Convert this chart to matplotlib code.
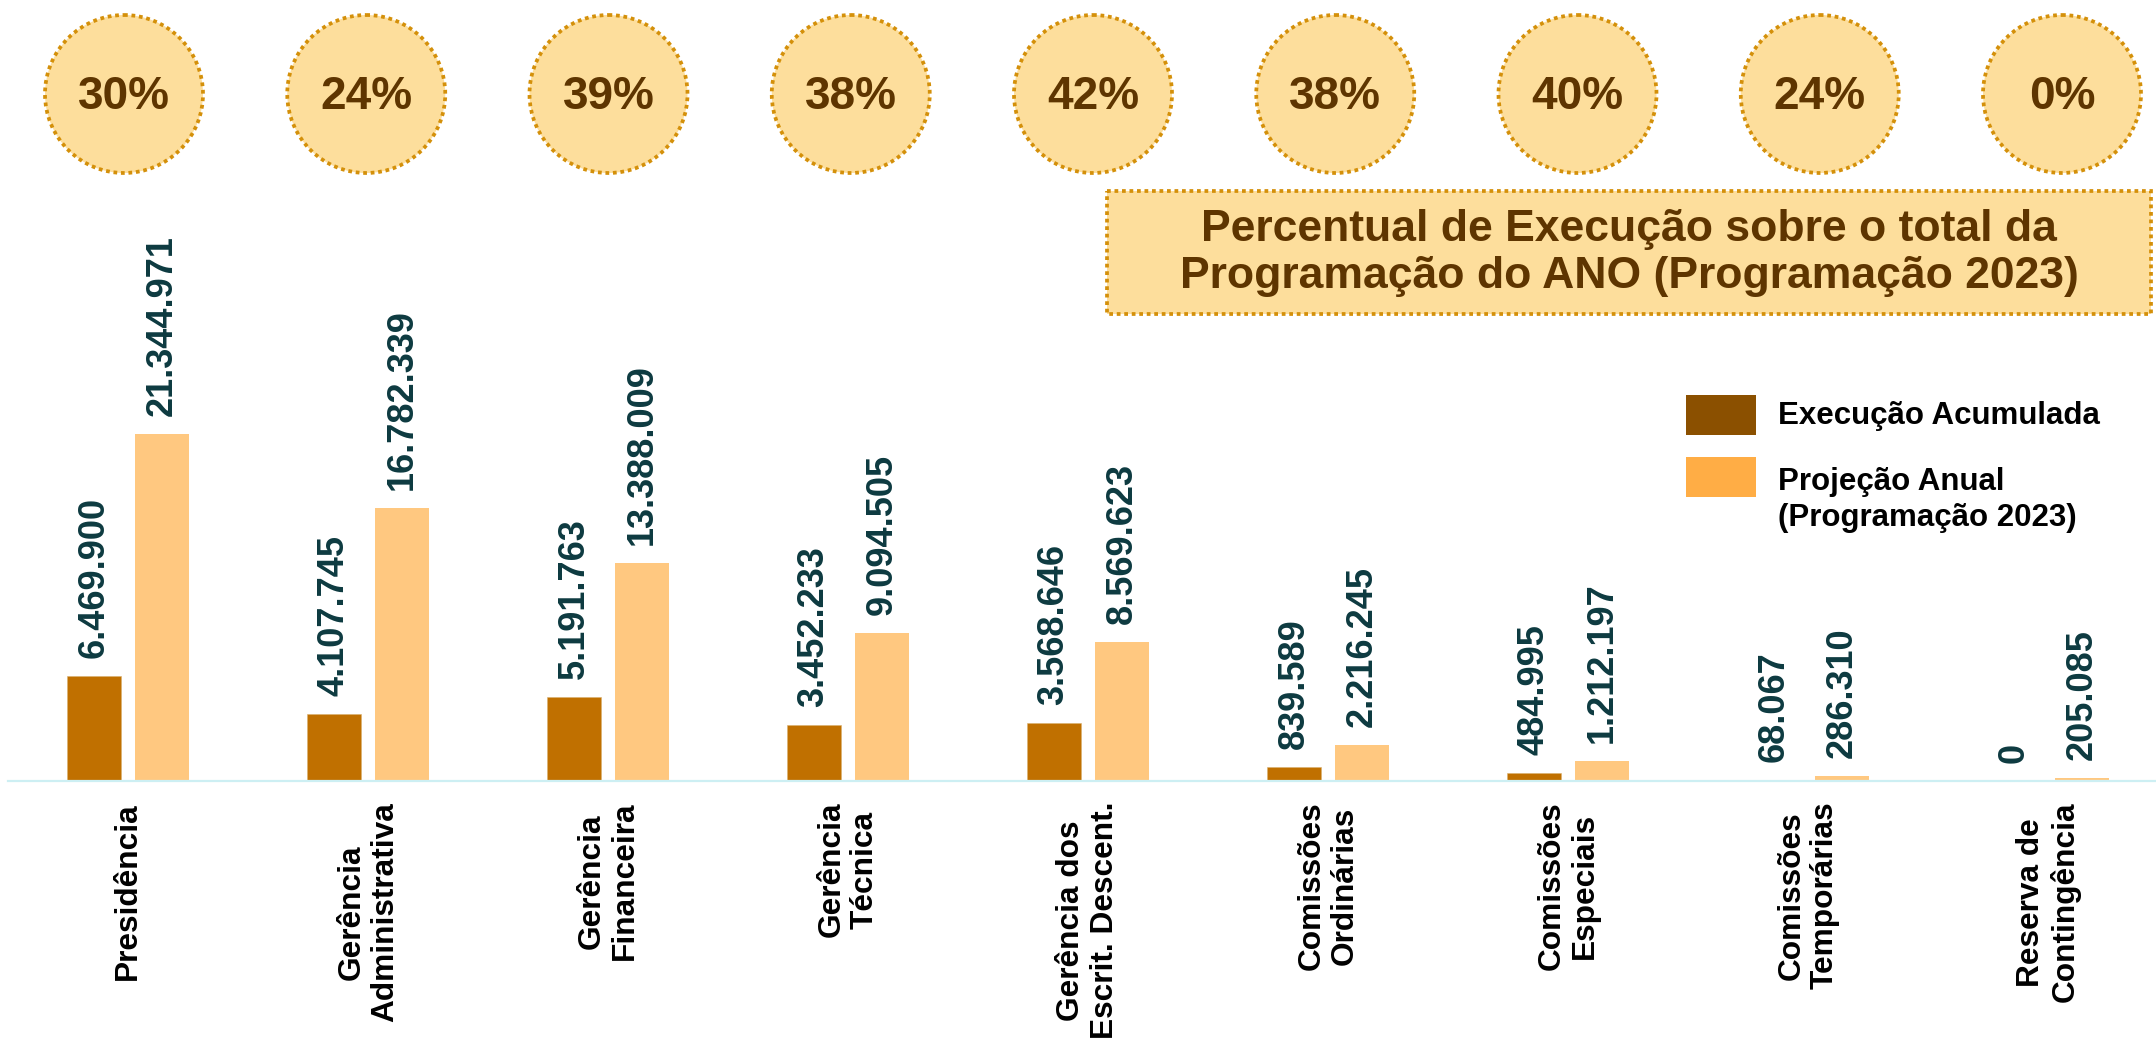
import matplotlib
matplotlib.use("Agg")
import matplotlib.pyplot as plt
from matplotlib.patches import Circle, Rectangle
import numpy as np

plt.rcParams['font.family'] = ['Liberation Sans', 'DejaVu Sans']
plt.rcParams['font.weight'] = 'bold'

# data
categories = ['Presidência', 'Gerência\nAdministrativa', 'Gerência\nFinanceira',
              'Gerência\nTécnica', 'Gerência dos\nEscrit. Descent.',
              'Comissões\nOrdinárias', 'Comissões\nEspeciais',
              'Comissões\nTemporárias', 'Reserva de\nContingência']
execucao = [6469900, 4107745, 5191763, 3452233, 3568646, 839589, 484995, 68067, 0]
projecao = [21344971, 16782339, 13388009, 9094505, 8569623, 2216245, 1212197, 286310, 205085]
percentuais = ['30%', '24%', '39%', '38%', '42%', '38%', '40%', '24%', '0%']
serie_exec = 'Execução Acumulada'
serie_proj = 'Projeção Anual\n(Programação 2023)'
titulo_box = 'Percentual de Execução sobre o total da\nProgramação do ANO (Programação 2023)'

W, H = 2156, 1040
fig = plt.figure(figsize=(W / 100, H / 100), dpi=100)

# main bar axes, placed in pixel units
ax_left, ax_right, ax_bottom, ax_top = 8, 2156, 781, 200
ax = fig.add_axes([ax_left / W, 1 - ax_bottom / H,
                   (ax_right - ax_left) / W, (ax_bottom - ax_top) / H])

x = np.arange(len(categories))
width = 0.225
off = 0.1417
c_exec = '#C07000'
c_proj = '#FFC880'
ax.bar(x - off, execucao, width, color=c_exec, edgecolor='#D9B070', linewidth=0.4)
ax.bar(x + off, projecao, width, color=c_proj)

ax.set_xlim(-0.5, 8.45)
ax.set_ylim(0, (ax_bottom - ax_top) / 16.25 * 1e6)

lbl_color = '#0D3A40'
def fmt(v):
    return f'{v:,}'.replace(',', '.')

for xi, v in zip(x - off, execucao):
    ax.annotate(fmt(v), (xi, v), xytext=(0, 13), textcoords='offset points',
                rotation=90, ha='center', va='bottom', fontsize=26,
                fontweight='bold', color=lbl_color)
for xi, v in zip(x + off, projecao):
    ax.annotate(fmt(v), (xi, v), xytext=(0, 13), textcoords='offset points',
                rotation=90, ha='center', va='bottom', fontsize=26,
                fontweight='bold', color=lbl_color)

ax.set_xticks(x)
ax.set_xticklabels(categories, rotation=90, ha='center', va='top',
                   multialignment='center', fontsize=22.8, fontweight='bold',
                   linespacing=1.15)
ax.tick_params(axis='x', length=0, pad=15)
ax.set_yticks([])
for s in ['top', 'left', 'right']:
    ax.spines[s].set_visible(False)
ax.spines['bottom'].set_color('#CDEFF3')
ax.spines['bottom'].set_linewidth(1.6)
ax.patch.set_alpha(0)

# overlay in pixel units for circles, title box and legend
ov = fig.add_axes([0, 0, 1, 1])
ov.set_xlim(0, W)
ov.set_ylim(H, 0)
ov.axis('off')

fill = '#FDDE9C'
edge = '#D4900A'
txt_brown = '#5E3500'
dots = (0, (1, 1))

for i, p in enumerate(percentuais):
    cx = 124 + 242.25 * i
    cy = 94
    ov.add_patch(Circle((cx, cy), 79, facecolor=fill, edgecolor=edge,
                        linewidth=2.7, linestyle=dots))
    ov.text(cx, cy + 3, p, ha='center', va='center', fontsize=33,
            fontweight='bold', color=txt_brown)

ov.add_patch(Rectangle((1107, 191), 1044, 123, facecolor=fill, edgecolor=edge,
                       linewidth=2.7, linestyle=dots))
ov.text(1629, 253, titulo_box, ha='center', va='center', fontsize=32,
        fontweight='bold', color=txt_brown, linespacing=1.2)

# legend
ov.add_patch(Rectangle((1686, 395), 70, 40, facecolor='#8B5000', edgecolor='none'))
ov.add_patch(Rectangle((1686, 457), 70, 40, facecolor='#FFAD45', edgecolor='none'))
ov.text(1778, 416, serie_exec, ha='left', va='center', fontsize=22.5,
        fontweight='bold', color='black')
ov.text(1778, 500, serie_proj, ha='left', va='center', fontsize=22.5,
        fontweight='bold', color='black', linespacing=1.3)

fig.savefig('out.png', dpi=100)
